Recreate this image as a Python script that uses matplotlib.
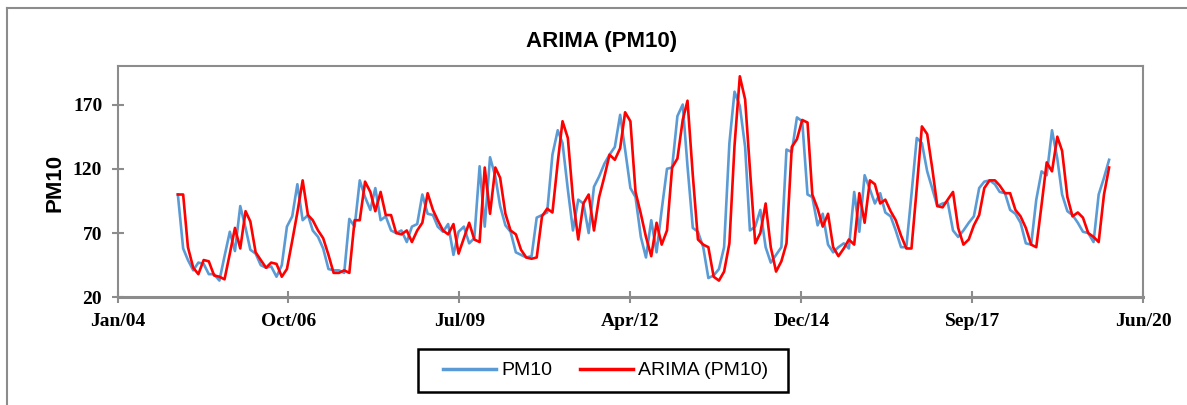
import numpy as np
import matplotlib
matplotlib.use("Agg")
import matplotlib.pyplot as plt
import matplotlib.dates as mdates
from matplotlib.lines import Line2D
from matplotlib.patches import Rectangle

# monthly series, Jan 2005 .. Dec 2019
months = np.arange('2005-01', '2020-01', dtype='datetime64[M]').astype('datetime64[D]')

pm10 = [100, 58, 49, 41, 47, 46, 38, 38, 33, 52, 71, 56,
        91, 74, 57, 54, 45, 43, 44, 36, 45, 75, 83, 108,
        80, 84, 72, 67, 58, 42, 41, 41, 39, 81, 75, 111,
        98, 88, 105, 80, 83, 72, 70, 72, 63, 75, 77, 100,
        85, 84, 75, 71, 77, 53, 71, 75, 62, 66, 122, 75,
        129, 114, 91, 76, 71, 55, 53, 51, 52, 82, 84, 86,
        131, 150, 140, 104, 72, 96, 93, 70, 106, 114, 124, 131,
        137, 162, 135, 105, 98, 67, 51, 80, 55, 88, 120, 121,
        161, 170, 122, 74, 71, 59, 35, 37, 42, 59, 140, 180,
        169, 137, 72, 75, 88, 59, 47, 53, 59, 135, 133, 160,
        157, 100, 98, 76, 85, 61, 55, 59, 62, 58, 102, 71,
        115, 104, 93, 101, 86, 83, 72, 59, 59, 100, 144, 140,
        118, 104, 91, 93, 94, 72, 67, 72, 78, 83, 105, 110,
        111, 108, 102, 101, 88, 85, 78, 62, 61, 96, 118, 115,
        150, 128, 100, 87, 84, 78, 71, 70, 63, 100, 113, 127]

arima = [100, 100, 59, 43, 38, 49, 48, 37, 36, 34, 54, 74,
         58, 87, 79, 55, 49, 43, 47, 46, 36, 42, 64, 86,
         111, 84, 80, 72, 66, 53, 39, 39, 41, 39, 80, 80,
         110, 102, 87, 102, 84, 84, 70, 69, 72, 63, 72, 78,
         101, 88, 80, 72, 69, 77, 54, 66, 78, 65, 63, 121,
         85, 121, 113, 85, 72, 69, 57, 51, 50, 51, 83, 89,
         86, 125, 157, 144, 97, 65, 93, 100, 72, 98, 114, 131,
         127, 136, 164, 157, 102, 85, 67, 52, 78, 61, 72, 121,
         128, 158, 173, 115, 65, 61, 59, 36, 33, 40, 62, 138,
         192, 174, 120, 62, 70, 93, 59, 40, 48, 62, 137, 143,
         158, 156, 100, 89, 75, 85, 59, 52, 58, 65, 61, 101,
         78, 111, 108, 93, 96, 87, 80, 68, 58, 58, 105, 153,
         147, 119, 91, 90, 96, 102, 74, 61, 65, 76, 84, 105,
         111, 111, 107, 101, 101, 88, 83, 74, 61, 59, 92, 125,
         118, 145, 134, 98, 83, 86, 82, 70, 67, 63, 100, 121]

# date axis: 1000-day steps starting 14 Jan 2004
x_start = np.datetime64('2004-01-14')
x_ticks = x_start + np.arange(7) * np.timedelta64(1000, 'D')
y_ticks = [20, 70, 120, 170]

W, H = 1187, 405
fig = plt.figure(figsize=(W / 100, H / 100), dpi=100)
ax = fig.add_axes([117.5 / W, 1 - 297.3 / H, (1143.3 - 117.5) / W, (297.3 - 66) / H])

ax.plot(months, pm10, color='#5B9BD5', lw=1.9, label='PM10', solid_joinstyle='round')
ax.plot(months, arima, color='#FF0000', lw=1.9, label='ARIMA (PM10)', solid_joinstyle='round')

ax.set_xlim(mdates.date2num(x_ticks[0]), mdates.date2num(x_ticks[-1]))
ax.set_xticks(mdates.date2num(x_ticks))
ax.xaxis.set_major_formatter(mdates.DateFormatter('%b/%y'))
ax.set_ylim(20, 200)
ax.set_yticks(y_ticks)

grey = '#8C8C8C'
for side, sp in ax.spines.items():
    sp.set_color(grey)
    sp.set_linewidth(1.5)
ax.spines['bottom'].set_linewidth(2.2)
ax.tick_params(direction='inout', length=8, width=1.5, color=grey, pad=7)
for lab in ax.get_xticklabels() + ax.get_yticklabels():
    lab.set_fontfamily('Liberation Serif')
    lab.set_fontweight('bold')
    lab.set_fontsize(14)

ax.set_ylabel('PM10', fontfamily='Liberation Sans', fontweight='bold', fontsize=16)
ax.yaxis.set_label_coords(66 / W, 1 - 182.5 / H, transform=fig.transFigure)

fig.text(602 / W, 1 - 42 / H, 'ARIMA (PM10)', ha='center', va='center',
         fontfamily='Liberation Sans', fontweight='bold', fontsize=16)

leg = fig.legend(loc='center', bbox_to_anchor=(606 / W, 1 - 370.5 / H), ncol=2,
                 prop={'family': 'Liberation Sans', 'size': 14},
                 handlelength=2.7, handletextpad=0.3, columnspacing=1.4,
                 borderaxespad=0, frameon=False)
for h in leg.get_lines():
    h.set_linewidth(2.5)

# legend box
fig.add_artist(Rectangle((417.5 / W, 1 - 392 / H), (788 - 417.5) / W, (392 - 349) / H,
                         transform=fig.transFigure, fill=False, edgecolor='black', lw=1.8))

# outer chart border (top and left edges visible)
fig.add_artist(Line2D([6.5 / W, 6.5 / W], [0, 1 - 7.5 / H], transform=fig.transFigure,
                      color=grey, lw=1.5))
fig.add_artist(Line2D([6.5 / W, 1], [1 - 7.5 / H, 1 - 7.5 / H], transform=fig.transFigure,
                      color=grey, lw=1.5))

fig.savefig('out.png', dpi=100)
